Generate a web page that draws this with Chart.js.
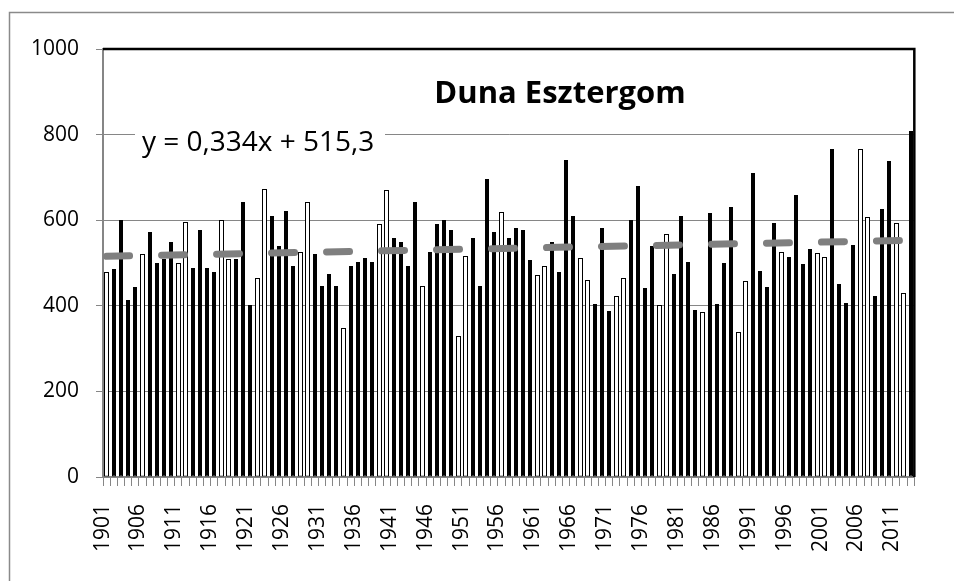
<!DOCTYPE html>
<html>
<head>
<meta charset="utf-8">
<script src="https://cdn.jsdelivr.net/npm/chart.js@4/dist/chart.umd.min.js"></script>
<style>
  html, body { margin: 0; padding: 0; background: #fff; }
  #wrap { width: 954px; height: 581px; position: relative; }
</style>
</head>
<body>
<div id="wrap"><canvas id="chart"></canvas></div>
<script>
// yearly values, Duna at Esztergom
const years = [];
for (let y = 1901; y <= 2013; y++) years.push(String(y));

const runoff = [
  479, 485, 600, 413, 443, 521, 573, 499, 510, 549,   // 1901-1910
  499, 596, 489, 576, 489, 479, 600, 509, 509, 642,   // 1911-1920
  401, 466, 674, 609, 539, 622, 493, 526, 642, 521,   // 1921-1930
  447, 475, 447, 349, 493, 502, 511, 502, 591, 670,   // 1931-1940
  559, 549, 493, 642, 447, 526, 590, 600, 577, 330,   // 1941-1950
  517, 559, 447, 697, 573, 619, 559, 582, 577, 507,   // 1951-1960
  471, 493, 549, 479, 740, 609, 512, 461, 405, 581,   // 1961-1970
  387, 424, 466, 600, 680, 442, 540, 401, 568, 475,   // 1971-1980
  609, 503, 391, 386, 617, 404, 501, 631, 339, 459,   // 1981-1990
  711, 482, 445, 594, 525, 515, 659, 497, 533, 524,   // 1991-2000
  515, 766, 450, 407, 543, 766, 607, 422, 627, 738,   // 2001-2010
  594, 431, 808                                       // 2011-2013
];

// linear trend, value at first and last year
const trendEnds = [515.6, 553.0];
const trendLabel = 'y = 0,334x + 515,3';
const titleText = 'Duna Esztergom';
const labelEvery = 5;

const trendData = years.map((_, i) =>
  i === 0 ? trendEnds[0] : (i === years.length - 1 ? trendEnds[1] : null));

const axisFont = { family: '"Open Sans", "Noto Sans", sans-serif', size: 21 };

// excel look: snap bars to whole pixels; the 4px ones come out solid
// black, the 5px ones keep a white inside
const barLook = {
  id: 'barLook',
  beforeDatasetsDraw(chart) {
    const meta = chart.getDatasetMeta(1);
    meta.data.forEach(bar => {
      const l = Math.round(bar.x - bar.width / 2);
      const r = Math.round(bar.x + bar.width / 2);
      bar.x = (l + r) / 2;
      bar.width = r - l;
      bar.y = Math.round(bar.y);
      bar.options.backgroundColor = (r - l >= 5) ? '#fff' : '#000';
    });
  }
};

const decor = {
  id: 'decor',
  afterDraw(chart) {
    const { ctx, chartArea: a } = chart;
    ctx.save();
    // plot area border (top + right)
    ctx.strokeStyle = '#000';
    ctx.lineWidth = 2.5;
    ctx.beginPath();
    ctx.moveTo(a.left, a.top);
    ctx.lineTo(a.right, a.top);
    ctx.lineTo(a.right, a.bottom);
    ctx.stroke();

    // outer chart frame
    ctx.strokeStyle = '#8a8a8a';
    ctx.lineWidth = 1.5;
    ctx.strokeRect(9.5, 12.5, 1000, 700);

    // trend equation box
    ctx.fillStyle = '#fff';
    ctx.fillRect(135, 126, 250, 34);
    ctx.fillStyle = '#000';
    ctx.font = '28px "Open Sans", "Noto Sans", sans-serif';
    ctx.textAlign = 'left';
    ctx.textBaseline = 'middle';
    ctx.fillText(trendLabel, 142, 143);

    // title
    ctx.font = 'bold 31px "Open Sans", "Noto Sans", sans-serif';
    ctx.textAlign = 'center';
    ctx.fillText(titleText, 560, 94);
    ctx.restore();
  }
};

new Chart(document.getElementById('chart'), {
  type: 'bar',
  data: {
    labels: years,
    datasets: [
      {
        type: 'line',
        data: trendData,
        borderColor: '#7f7f7f',
        borderWidth: 7,
        borderDash: [23, 32],
        borderCapStyle: 'round',
        pointRadius: 0,
        spanGaps: true,
        order: 0
      },
      {
        data: runoff,
        backgroundColor: ctx => '#000',
        borderColor: '#000',
        borderWidth: 1,
        borderSkipped: false,
        barPercentage: 0.6,
        categoryPercentage: 1,
        order: 1
      }
    ]
  },
  options: {
    responsive: true,
    maintainAspectRatio: false,
    animation: false,
    layout: { padding: { top: 49, right: 16, left: 0, bottom: 0 } },
    plugins: { legend: { display: false }, tooltip: { enabled: false }, title: { display: false } },
    scales: {
      x: {
        grid: { offset: true, drawOnChartArea: false, drawTicks: true, tickLength: 9, color: '#868686', lineWidth: 1 },
        border: { color: '#868686', width: 2 },
        ticks: {
          autoSkip: false,
          minRotation: 90,
          maxRotation: 90,
          padding: 18,
          labelOffset: -4,
          color: '#000',
          font: axisFont,
          callback(v, i) { return i % labelEvery === 0 ? this.getLabelForValue(v) : ''; }
        },
        afterFit(s) { s.height = 104; }
      },
      y: {
        min: 0,
        max: 1000,
        ticks: { stepSize: 200, padding: 17, color: '#000', font: axisFont, callback: v => String(v) },
        grid: { color: '#868686', lineWidth: 1, tickLength: 7, drawTicks: true },
        border: { color: '#868686', width: 2 },
        afterFit(s) { s.width = 103; }
      }
    }
  },
  plugins: [barLook, decor]
});
</script>
</body>
</html>
